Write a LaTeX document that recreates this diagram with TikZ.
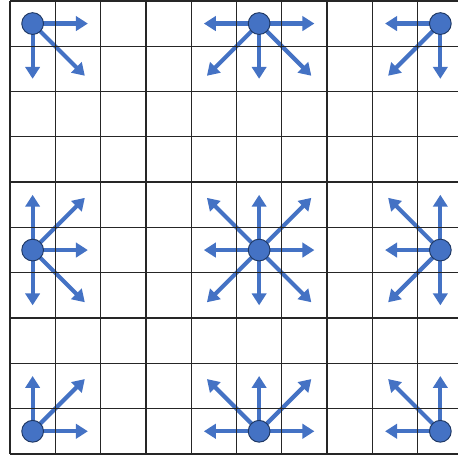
\documentclass[tikz,border=0pt]{standalone}
\usepackage{tikz}
\usetikzlibrary{arrows.meta,backgrounds}
\definecolor{dotblue}{HTML}{4472C4}
\definecolor{dotrim}{HTML}{1F3864}

\begin{document}
\begin{tikzpicture}[
  gridline/.style={line width=0.8pt,black!85},
  dot/.style={circle,draw=dotrim,line width=0.6pt,fill=dotblue,minimum size=0.48cm,inner sep=0pt},
  arr/.style={-{Triangle[length=7.5pt,width=9pt]},line width=2.6pt,dotblue}]
\useasboundingbox (-0.22,-0.05) rectangle (9.89,10.02);
\clip (-0.22,-0.05) rectangle (9.89,10.02);
\draw[gridline] (0,0) grid (10,10);
% the nine points
\foreach \n/\x/\y in {tl/0.5/9.5,tm/5.5/9.5,tr/9.5/9.5,
                      ml/0.5/4.5,mc/5.5/4.5,mr/9.5/4.5,
                      bl/0.5/0.5,bm/5.5/0.5,br/9.5/0.5}
  \node[dot] (\n) at (\x,\y) {};
% moves from each point
\begin{scope}[on background layer]
\foreach \n/\dirs in {tl/{0,270,315},tm/{0,180,225,270,315},tr/{180,225,270},
                      ml/{90,45,0,315,270},mc/{0,45,90,135,180,225,270,315},mr/{90,135,180,225,270},
                      bl/{90,45,0},bm/{180,135,90,45,0},br/{180,135,90}}
  \foreach \a in \dirs {
    \pgfmathsetmacro\len{mod(\a,90)==0 ? 1.22 : 1.63}
    \path (\n) ++(\a:\len) coordinate (\n-\a);
    \draw[arr] (\n.center) -- (\n-\a);
  }
\end{scope}
\end{tikzpicture}
\end{document}
